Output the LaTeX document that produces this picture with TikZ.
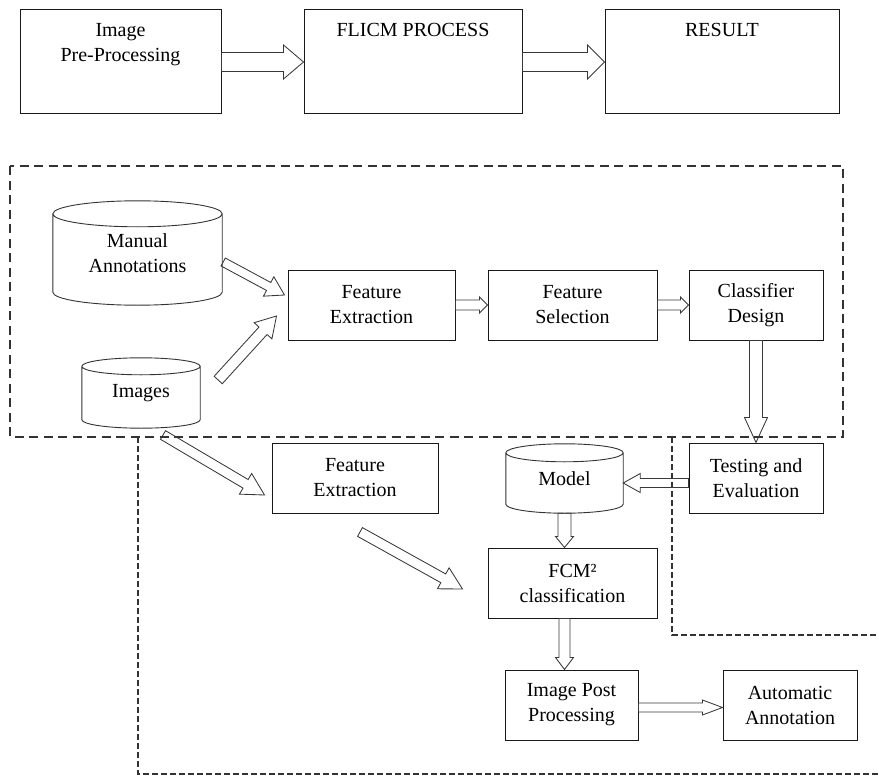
\documentclass[tikz,border=0pt]{standalone}
\usepackage{fontspec}
\setmainfont{Liberation Serif}
\usetikzlibrary{calc}

% hollow block arrow: [options]{from}{to}{half shaft}{half head}{head length}
\newcommand\hollowarrow[6][]{%
  \draw[blockarrow,#1] ($(#2)!#4!90:(#3)$)
    -- ($(#3)!#6!(#2)!#4!-90:(#2)$)
    -- ($(#3)!#6!(#2)!#5!-90:(#2)$)
    -- (#3)
    -- ($(#3)!#6!(#2)!#5!90:(#2)$)
    -- ($(#3)!#6!(#2)!#4!90:(#2)$)
    -- ($(#2)!#4!-90:(#3)$) -- cycle;}

% database drum drawn around a named node: {node}{rim half-height}
\newcommand\drum[2]{%
  \draw[drumline] let \p1=(#1.north west), \p2=(#1.south east),
      \n1={(\x2-\x1)/2} in
    (\x1,\y1-#2) -- (\x1,\y2+#2)
      arc[start angle=180, end angle=360, x radius=\n1, y radius=#2]
      -- (\x2,\y1-#2)
    (\x1+\n1,\y1-#2) ellipse [x radius=\n1, y radius=#2];}

\tikzset{
  every node/.style={font=\fontsize{20}{25}\selectfont},
  box/.style={draw=black!90, line width=1pt, align=center, inner sep=0pt,
    minimum height=70pt},
  drumnode/.style={align=center, inner sep=0pt},
  drumline/.style={draw=black!80, line width=0.9pt},
  blockarrow/.style={draw=black!78, line width=0.85pt, line join=miter},
  toplabel/.style={anchor=north, align=center, inner sep=0pt, yshift=-13.5pt},
  bigframe/.style={draw=black!80, line width=1.25pt, dash pattern=on 9pt off 5.5pt},
  smallframe/.style={draw=black!80, line width=1.15pt, dash pattern=on 5.5pt off 3.5pt},
}

\begin{document}
\begin{tikzpicture}[x=1pt, y=1pt]
\useasboundingbox (0,0) rectangle (879,-776);

% ---- overview row ----
\node[box, minimum width=201pt, minimum height=104pt,
  label={[toplabel]north:Image\\Pre-Processing}] (b1) at (120.5,-62) {};
\node[box, minimum width=218pt, minimum height=104pt,
  label={[toplabel]north:FLICM PROCESS}] (b2) at (413,-62) {};
\node[box, minimum width=234pt, minimum height=104pt,
  label={[toplabel]north:RESULT}] (b3) at (722,-62) {};

\hollowarrow{b1.east}{b2.west}{9.5pt}{17pt}{20pt}
\hollowarrow{b2.east}{b3.west}{9.5pt}{17pt}{17pt}

% ---- dashed frames ----
\draw[bigframe] (10,-166) rectangle (843,-437);
\coordinate (lowtop) at (138,-437);
\coordinate (lowbot) at (138,-774);
\coordinate (lowend) at (879,-774);
\coordinate (sidetop) at (672,-437);
\coordinate (sidebot) at (672,-635);
\coordinate (sideend) at (879,-635);
\draw[smallframe] (lowtop) -- (lowbot) -- (lowend);
\draw[smallframe] (sidetop) -- (sidebot) -- (sideend);

% ---- training stage ----
\node[drumnode, minimum width=169pt, minimum height=104pt] (ma) at (137.5,-253) {Manual\\Annotations};
\drum{ma}{13pt}
\node[drumnode, minimum width=118pt, minimum height=70pt] (img) at (141,-393) {Images};
\drum{img}{8.5pt}

\node[box, minimum width=167pt] (fe1) at (371.5,-305) {Feature\\Extraction};
\node[box, minimum width=169pt] (fs) at (572.5,-305) {Feature\\Selection};
\node[box, minimum width=134pt] (cd) at (756,-305) {Classifier\\Design};
\node[box, minimum width=134pt] (te) at (756,-478) {Testing and\\Evaluation};

\coordinate (maout) at ($(ma.east)+(1,-9)$);
\coordinate (fein1) at ($(fe1.west)+(-3,10)$);
\coordinate (imgout) at ($(img.east)+(18,13)$);
\coordinate (fein2) at ($(fe1.west)+(-11,-11)$);
\hollowarrow{maout}{fein1}{4.5pt}{11pt}{18pt}
\hollowarrow{imgout}{fein2}{5.5pt}{12pt}{20pt}
\hollowarrow{fe1.east}{fs.west}{5pt}{8pt}{8pt}
\hollowarrow{fs.east}{cd.west}{5pt}{8pt}{8pt}
\hollowarrow{cd.south}{te.north}{6.5pt}{11.5pt}{25pt}

% ---- annotation stage ----
\node[drumnode, minimum width=117pt, minimum height=69pt] (model) at (564.5,-478.5) {Model};
\drum{model}{9pt}
\node[box, minimum width=166pt] (fe2) at (355,-478) {Feature\\Extraction};
\node[box, minimum width=169pt] (fcm) at (572.5,-583) {FCM²\\classification};
\node[box, minimum width=133pt] (ipp) at (571.5,-705) {Image Post\\Processing};
\node[box, minimum width=134pt] (aa) at (790,-705) {Automatic\\Annotation};

\coordinate (teout) at ($(te.west)+(0,-5)$);
\coordinate (modelin) at ($(model.east)+(0,-4.5)$);
\hollowarrow{teout}{modelin}{4.5pt}{9.5pt}{17pt}
\coordinate (imgdown) at (163,-435);
\coordinate (fe2in) at ($(fe2.west)+(-7,-17)$);
\hollowarrow{imgdown}{fe2in}{5pt}{12pt}{22pt}
\coordinate (fe2out) at (360,-532);
\coordinate (fcmin) at ($(fcm.west)+(-25,-6)$);
\hollowarrow{fe2out}{fcmin}{5pt}{12pt}{22pt}
\hollowarrow{model.south}{model.south |- fcm.north}{6.5pt}{9pt}{11pt}
\hollowarrow{model.south |- fcm.south}{model.south |- ipp.north}{5.5pt}{9pt}{12pt}
\coordinate (ippout) at ($(ipp.east)+(0,-2.5)$);
\coordinate (aain) at ($(aa.west)+(0,-2.5)$);
\hollowarrow{ippout}{aain}{4.5pt}{7.5pt}{20pt}
\end{tikzpicture}
\end{document}
